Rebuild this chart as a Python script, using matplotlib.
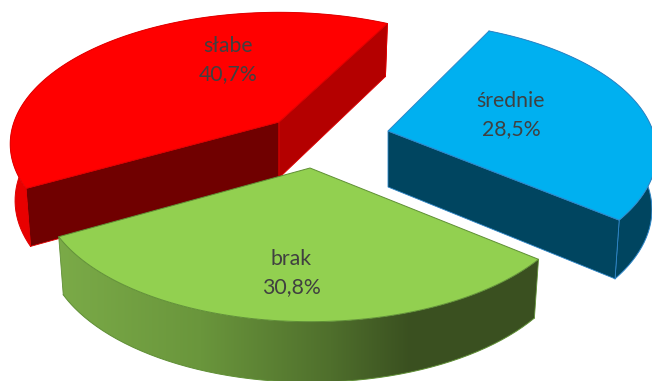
import numpy as np
import matplotlib
matplotlib.use('Agg')
import matplotlib.pyplot as plt
from matplotlib.colors import to_rgb

labels = ['średnie', 'brak', 'słabe']
shares = [28.5, 30.8, 40.7]
shown = ['28,5%', '30,8%', '40,7%']

# look of the slices
apex = [(388, 131), (310, 168), (279, 122)]
turn = [0.0, 1.0, 2.0]
top_col = ['#00b0f0', '#92d050', '#ff0000']
edge_col = ['#2e86c8', '#5f8f35', '#e00000']
rim_stops = [([0, 652], ['#004560', '#004560']),
             ([55, 200, 330, 410, 545], ['#7bab48', '#6a963c', '#4f6f2c', '#3a5020', '#3a5020']),
             ([0, 652], ['#e80000', '#e80000'])]
start_face = [None, None, '#700000']         # wall on the first radius
end_face = ['#004560', None, '#b40000']      # wall on the last radius
label_xy = [(511, 115), (291, 273), (228, 60)]

start_angle = -64.0
R0 = 265.0
SY = 128.0
G = 0.167
DEPTH = 56


def project(phi, c):
    # tilted disc with a bit of perspective, phi in degrees, clockwise on screen
    u = np.cos(np.radians(phi))
    v = np.sin(np.radians(phi))
    d = 1 - G * v
    return c[0] + R0 * u / d, c[1] + SY * v / d


def lower(x, y, c):
    # same point on the bottom of the slice
    return c[0] + (x - c[0]) * 0.982, y + DEPTH + 0.03 * (y - c[1])


plt.rcParams['font.family'] = ['Lato', 'DejaVu Sans']
fig = plt.figure(figsize=(6.52, 3.81), dpi=100)
ax = fig.add_axes([0, 0, 1, 1])
ax.axis('off')

angles = start_angle + np.cumsum([0] + shares) * 3.6
z = 1


def wall(p, q, c, col, edge):
    global z
    if col is None:
        return
    px, py = lower(p[0], p[1], c)
    qx, qy = lower(q[0], q[1], c)
    ax.fill([p[0], q[0], qx, px], [p[1], q[1], qy, py], color=col, ec=edge, lw=0.6, zorder=z)
    z += 1


for i in [2, 0, 1]:
    phi = np.linspace(angles[i], angles[i + 1], 160) + turn[i]
    x, y = project(phi, apex[i])
    c = apex[i]
    xl, yl = lower(x, y, c)

    wall(c, (x[0], y[0]), c, start_face[i], edge_col[i])

    # outer rim, colour runs from left to right
    xs, cols = rim_stops[i]
    rgb = np.array([to_rgb(s) for s in cols])
    grad = np.stack([np.interp(np.arange(652), xs, rgb[:, n]) for n in range(3)], axis=1)
    rim = ax.fill(np.r_[x, xl[::-1]], np.r_[y, yl[::-1]], fc='none', ec='none')[0]
    im = ax.imshow(grad[None, :, :], extent=[0, 652, 381, 0], aspect='auto', zorder=z)
    im.set_clip_path(rim)
    z += 1
    ax.plot(xl, yl, color=edge_col[i], lw=0.7, zorder=z)
    ax.plot([x[0], xl[0]], [y[0], yl[0]], color=edge_col[i], lw=0.6, zorder=z)
    ax.plot([x[-1], xl[-1]], [y[-1], yl[-1]], color=edge_col[i], lw=0.6, zorder=z)
    z += 1

    wall(c, (x[-1], y[-1]), c, end_face[i], edge_col[i])
    ax.fill(np.r_[c[0], x], np.r_[c[1], y], color=top_col[i], ec=edge_col[i], lw=0.7, zorder=z)
    z += 1

    ax.text(label_xy[i][0], label_xy[i][1], labels[i] + '\n' + shown[i], color='#404040',
            fontsize=15.3, ha='center', va='center', linespacing=1.5, zorder=100)

ax.set_xlim(0, 652)
ax.set_ylim(381, 0)
fig.savefig('out.png', dpi=100)
